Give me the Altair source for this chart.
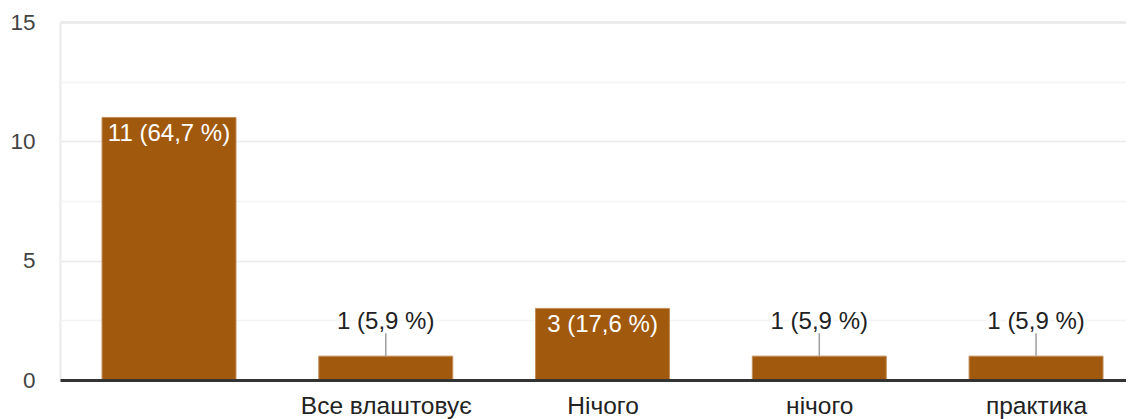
import altair as alt
import pandas as pd

categories = [" ", "Все влаштовує", "Нічого", "нічого", "практика"]
counts = [11, 1, 3, 1, 1]
percents = ["64,7", "5,9", "17,6", "5,9", "5,9"]
labels = [f"{c} ({p} %)" for c, p in zip(counts, percents)]

df = pd.DataFrame({
    "idx": list(range(len(categories))),
    "cat": categories,
    "count": counts,
    "label": labels,
})

FONT = "Liberation Sans"
BAR = "#a1590e"
HALF = 0.309  # half bar width, in category steps
W = 1066
STEP_PX = 216.76

label_expr = "[" + ",".join("'" + c + "'" for c in categories) + "][datum.value]"

xscale = alt.Scale(domain=[-0.5029, -0.5029 + W / STEP_PX], nice=False, zero=False)
xaxis = alt.Axis(
    values=list(range(len(categories))), labelExpr=label_expr, grid=False,
    labelAngle=0, ticks=False, labelPadding=14, labelFontSize=24.5,
    labelColor="#222222", labelFont=FONT, domainColor="#333333",
    domainWidth=3, zindex=1, labelLimit=400, labelFlush=False, labelOverlap=False,
)
yscale = alt.Scale(domain=[0, 15], nice=False, zero=True)
yenc = alt.Y(
    "count:Q",
    title=None,
    scale=yscale,
    axis=alt.Axis(
        values=[0, 2.5, 5, 7.5, 10, 12.5, 15],
        labelExpr="datum.value % 5 === 0 ? datum.label : ''",
        ticks=False, labelPadding=25, labelFontSize=22.5,
        labelColor="#444444", labelFont=FONT,
        domainColor="#eeeeee", domainWidth=2.5,
        gridColor={"condition": {"test": "datum.value % 5 === 0", "value": "#ebebeb"}, "value": "#f4f4f4"},
        gridWidth={"condition": {"test": "datum.value === 15", "value": 3}, "value": 1.5},
    ),
)

base = alt.Chart(df)

bars = base.transform_calculate(
    x0=f"datum.idx - {HALF}", x1=f"datum.idx + {HALF}"
).mark_bar(color=BAR, stroke="#c48d58", strokeWidth=1).encode(
    x=alt.X("x0:Q", scale=xscale, axis=xaxis, title=None),
    x2="x1:Q",
    y=yenc,
    y2=alt.datum(0),
)

tbase = base.encode(
    x=alt.X("idx:Q", scale=xscale, title=None),
    y=alt.Y("count:Q", scale=yscale, title=None),
)

inside = tbase.transform_filter("datum.count >= 2").mark_text(
    baseline="middle", dy=17, fontSize=24, font=FONT, color="white"
).encode(text="label:N")

small = tbase.transform_filter("datum.count < 2")
leader = small.mark_rule(color="#9e9e9e", strokeWidth=1.5, y2Offset=-23).encode(y2="count:Q")
halo = small.mark_text(
    baseline="middle", dy=-34, fontSize=24, font=FONT, color="white",
    stroke="white", strokeWidth=5,
).encode(text="label:N")
outside = small.mark_text(
    baseline="middle", dy=-34, fontSize=24, font=FONT, color="#222222"
).encode(text="label:N")

chart = alt.layer(bars, inside, leader, halo, outside).properties(
    width=W,
    height=358,
    autosize=alt.AutoSizeParams(type="none"),
    padding={"left": 52, "right": 0, "top": 14, "bottom": 39},
    background="white",
).configure_view(stroke=None)

chart.save("out.html", embed_options={"renderer": "svg", "actions": False})
